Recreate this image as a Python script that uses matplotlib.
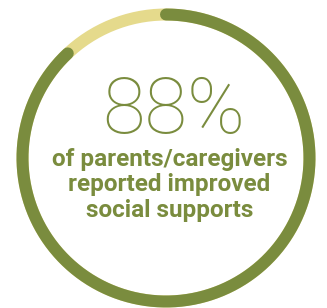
import matplotlib.pyplot as plt
import numpy as np

# values
share = [88, 12]
colors = ["#7a8c3e", "#e5da8c"]
big_label = "88%"
caption = ["of parents/caregivers", "reported improved", "social supports"]

dpi = 100
fig = plt.figure(figsize=(3.27, 3.08), dpi=dpi)
ax = fig.add_axes([0, 0, 1, 1])
ax.set_xlim(0, 327)
ax.set_ylim(308, 0)
ax.axis("off")

cx, cy, r = 166, 158, 143.5
lw = 12 * 72 / dpi

# background ring (remainder)
t = np.linspace(0, 2 * np.pi, 400)
ax.plot(cx + r * np.cos(t), cy + r * np.sin(t), color=colors[1], lw=lw,
        solid_capstyle="butt")

# main arc, clockwise from 12 o'clock
frac = share[0] / sum(share)
t = np.linspace(0, 2 * np.pi * frac, 400)
ax.plot(cx + r * np.sin(t), cy - r * np.cos(t), color=colors[0], lw=lw,
        solid_capstyle="round")

ax.text(173.5, 133.5, big_label, ha="center", va="baseline", fontsize=56,
        family="Roboto", fontweight=250, color=colors[0])

for i, line in enumerate(caption):
    ax.text(169.5, 166 + i * 25.5, line, ha="center", va="baseline",
            fontsize=17.5, family="Roboto", fontweight="bold",
            color=colors[0])

fig.savefig("out.png", dpi=dpi)
